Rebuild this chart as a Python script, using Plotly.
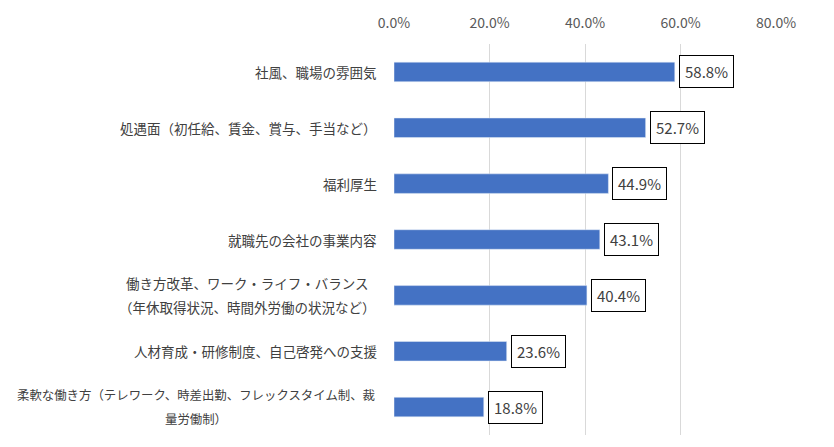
import plotly.graph_objects as go

# 項目（上から順）
categories = [
    "社風、職場の雰囲気",
    "処遇面（初任給、賃金、賞与、手当など）",
    "福利厚生",
    "就職先の会社の事業内容",
    "働き方改革、ワーク・ライフ・バランス\n（年休取得状況、時間外労働の状況など）",
    "人材育成・研修制度、自己啓発への支援",
    "柔軟な働き方（テレワーク、時差出勤、フレックスタイム制、裁\n量労働制）",
]
values = [58.8, 52.7, 44.9, 43.1, 40.4, 23.6, 18.8]
x_ticks = [0, 20, 40, 60, 80]

FONT = "Noto Sans CJK JP, Noto Sans, sans-serif"
LABEL_SIZE = 13.5
LABEL_MAX_W = 360  # ラベル欄に収まる幅(px)

fig = go.Figure()

fig.add_trace(
    go.Bar(
        x=values,
        y=categories,
        orientation="h",
        marker_color="#4472C4",
        hoverinfo="x+y",
        showlegend=False,
    )
)

annotations = []

# 値ラベル（枠付き）
for cat, v in zip(categories, values):
    annotations.append(dict(
        x=v, y=cat, xref="x", yref="y",
        text=f"{v:.1f}%",
        showarrow=False,
        xanchor="left", yanchor="middle",
        xshift=4,
        font=dict(family=FONT, size=15, color="#404040"),
        bgcolor="white",
        bordercolor="#000000",
        borderwidth=1,
        borderpad=5,
    ))

# 項目ラベル（複数行は中央揃え）
for cat in categories:
    lines = cat.split("\n")
    n = len(lines)
    longest = max(len(s) for s in lines)
    size = min(LABEL_SIZE, LABEL_MAX_W / longest)
    box_w = longest * size + 2
    for i, line in enumerate(lines):
        ann = dict(
            x=0, y=cat, xref="paper", yref="y",
            text=line,
            showarrow=False,
            xanchor="right", yanchor="middle",
            xshift=-15,
            yshift=(n - 1) * 12 - i * 24,
            font=dict(family=FONT, size=size, color="#404040"),
        )
        if n > 1:
            ann["width"] = box_w
            ann["align"] = "center"
        annotations.append(ann)

# ページ本体の既定余白(8px)を見込んだサイズ
fig.update_layout(
    width=826, height=431,
    margin=dict(l=386, r=58, t=33, b=4),
    paper_bgcolor="white",
    plot_bgcolor="white",
    bargap=0.65,
    annotations=annotations,
    font=dict(family=FONT),
)

fig.update_xaxes(
    side="top",
    range=[0, 80],
    tickvals=x_ticks,
    ticktext=[f"{t:.1f}%" for t in x_ticks],
    showgrid=True,
    gridcolor="#d9d9d9",
    gridwidth=1,
    zeroline=False,
    showline=False,
    ticks="",
    ticklabelstandoff=12,
    tickfont=dict(family=FONT, size=14, color="#595959"),
)

fig.update_yaxes(
    autorange="reversed",
    showticklabels=False,
    showgrid=False,
    zeroline=False,
    showline=False,
    ticks="",
)

fig.write_html("out.html")
